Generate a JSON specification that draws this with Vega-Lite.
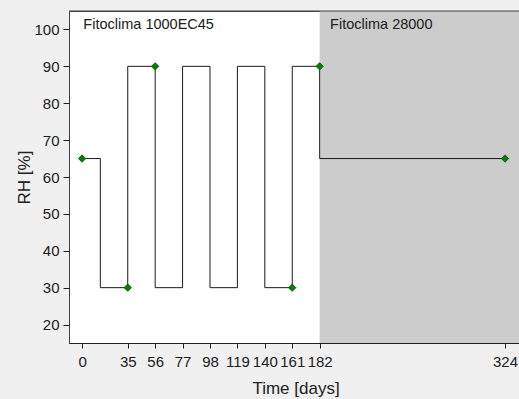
{
  "$schema": "https://vega.github.io/schema/vega-lite/v6.json",
  "width": 453,
  "height": 332,
  "autosize": "none",
  "padding": {"left": 69, "top": 11, "right": 0, "bottom": 56},
  "background": "#f0f0f0",
  "config": {
    "font": "Liberation Sans",
    "view": {"fill": "white", "stroke": "#404040", "strokeWidth": 1},
    "axis": {
      "grid": false,
      "domainColor": "#202020",
      "tickColor": "#202020",
      "labelColor": "#202020",
      "titleColor": "#202020",
      "labelFontSize": 15,
      "titleFontSize": 17,
      "titleFontWeight": "normal",
      "labelFont": "Liberation Sans",
      "titleFont": "Liberation Sans"
    }
  },
  "datasets": {
    "steps": [
      {"day": 0, "rh": 65},
      {"day": 14, "rh": 30},
      {"day": 35, "rh": 90},
      {"day": 56, "rh": 30},
      {"day": 77, "rh": 90},
      {"day": 98, "rh": 30},
      {"day": 119, "rh": 90},
      {"day": 140, "rh": 30},
      {"day": 161, "rh": 90},
      {"day": 182, "rh": 65},
      {"day": 324, "rh": 65}
    ],
    "samples": [
      {"day": 0, "rh": 65},
      {"day": 35, "rh": 30},
      {"day": 56, "rh": 90},
      {"day": 161, "rh": 30},
      {"day": 182, "rh": 90},
      {"day": 324, "rh": 65}
    ],
    "zones": [
      {"start": 182, "end": 337}
    ],
    "frame": [
      {"start": -10, "end": 337, "rh": 105}
    ],
    "labels": [
      {"day": 1, "rh": 101.2, "label": "Fitoclima 1000EC45"},
      {"day": 190, "rh": 101.2, "label": "Fitoclima 28000"}
    ]
  },
  "layer": [
    {
      "data": {"name": "zones"},
      "mark": {"type": "rect", "color": "#cccccc"},
      "encoding": {
        "x": {"field": "start", "type": "quantitative", "scale": {"domain": [-10, 337], "nice": false, "zero": false}},
        "x2": {"field": "end"}
      }
    },
    {
      "data": {"name": "frame"},
      "mark": {"type": "rule", "color": "#404040", "strokeWidth": 1},
      "encoding": {
        "x": {"field": "start", "type": "quantitative"},
        "x2": {"field": "end"},
        "y": {"field": "rh", "type": "quantitative"}
      }
    },
    {
      "data": {"name": "steps"},
      "mark": {"type": "line", "interpolate": "step-after", "color": "#1a1a1a", "strokeWidth": 1},
      "encoding": {
        "x": {
          "field": "day", "type": "quantitative",
          "scale": {"domain": [-10, 337], "nice": false, "zero": false},
          "axis": {"title": "Time [days]", "values": [0, 35, 56, 77, 98, 119, 140, 161, 182, 324], "tickSize": 5, "labelPadding": 6, "titlePadding": 11, "domain": true, "labelOverlap": false}
        },
        "y": {
          "field": "rh", "type": "quantitative",
          "scale": {"domain": [15, 105], "nice": false, "zero": false},
          "axis": {"title": "RH [%]", "values": [20, 30, 40, 50, 60, 70, 80, 90, 100], "tickSize": 6, "labelPadding": 4, "titlePadding": 0, "domain": false}
        }
      }
    },
    {
      "data": {"name": "samples"},
      "mark": {"type": "point", "shape": "diamond", "filled": true, "color": "#008000", "size": 55, "stroke": "#005500", "strokeWidth": 0.8, "opacity": 1},
      "encoding": {
        "x": {"field": "day", "type": "quantitative"},
        "y": {"field": "rh", "type": "quantitative"}
      }
    },
    {
      "data": {"name": "labels"},
      "mark": {"type": "text", "align": "left", "baseline": "middle", "fontSize": 14.5, "color": "#202020", "font": "Liberation Sans"},
      "encoding": {
        "x": {"field": "day", "type": "quantitative"},
        "y": {"field": "rh", "type": "quantitative"},
        "text": {"field": "label"}
      }
    }
  ]
}
